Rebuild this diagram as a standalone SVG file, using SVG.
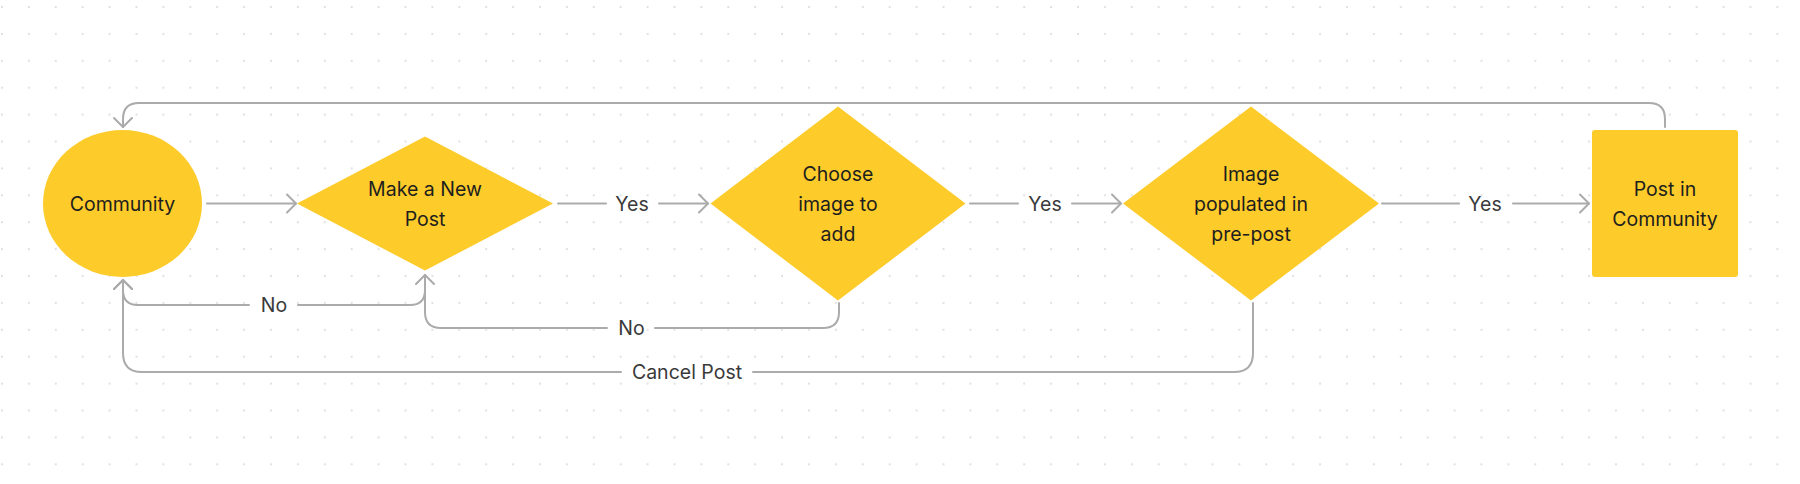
<svg xmlns="http://www.w3.org/2000/svg" width="1800" height="484" viewBox="0 0 1800 484">
  <defs>
    <pattern id="dots" x="0" y="0" width="26.9" height="26.9" patternUnits="userSpaceOnUse">
      <circle cx="2" cy="7" r="1.1" fill="#dcdcdc"/>
    </pattern>
    <marker id="arrow" markerUnits="userSpaceOnUse" markerWidth="24" markerHeight="24" viewBox="-12 -12 24 24" refX="0" refY="0" orient="auto">
      <path d="M-9,-9 L0,0 L-9,9" fill="none" stroke="#ababab" stroke-width="2" stroke-linecap="round" stroke-linejoin="round"/>
    </marker>
    <style>
      .shape { fill: #FDCB2A; }
      .node-text { font-family: Inter, "Liberation Sans", sans-serif; font-size: 19.5px; fill: #1e1e1e; text-anchor: middle; }
      .label { font-family: Inter, "Liberation Sans", sans-serif; font-size: 19.5px; fill: #3a3a3a; text-anchor: middle; }
      .conn { fill: none; stroke: #ababab; stroke-width: 2; stroke-linecap: round; stroke-linejoin: round; }
    </style>
  </defs>

  <rect x="0" y="0" width="1800" height="484" fill="#ffffff"/>
  <rect x="0" y="0" width="1800" height="484" fill="url(#dots)"/>

  <g id="connectors">
    <path class="conn" d="M207,203.5 H296" marker-end="url(#arrow)"/>
    <path class="conn" d="M558,203.5 H606 M659,203.5 H708" marker-end="url(#arrow)"/>
    <path class="conn" d="M970,203.5 H1018 M1072,203.5 H1121" marker-end="url(#arrow)"/>
    <path class="conn" d="M1382,203.5 H1459 M1513,203.5 H1589" marker-end="url(#arrow)"/>
    <path class="conn" d="M1665,127 V119 Q1665,103 1649,103 H139 Q123,103 123,119 V127" marker-end="url(#arrow)"/>
    <path class="conn" d="M425,275 V290 Q425,305 410,305 H298 M249,305 H138 Q123,305 123,290 V280" marker-end="url(#arrow)"/>
    <path class="conn" d="M839,303 V312 Q839,328 823,328 H655 M607,328 H441 Q425,328 425,312 V275" marker-end="url(#arrow)"/>
    <path class="conn" d="M1253,303 V353 Q1253,372 1234,372 H753 M621,372 H142 Q123,372 123,353 V280" marker-end="url(#arrow)"/>
    <text class="label" x="632" y="210.5">Yes</text>
    <text class="label" x="1045" y="210.5">Yes</text>
    <text class="label" x="1485" y="210.5">Yes</text>
    <text class="label" x="274" y="312">No</text>
    <text class="label" x="631.5" y="335">No</text>
    <text class="label" x="687" y="379">Cancel Post</text>
  </g>

  <g id="community">
    <ellipse class="shape" cx="122.5" cy="203.5" rx="79.5" ry="73.5"/>
    <text class="node-text" x="122.5" y="211">Community</text>
  </g>

  <g id="make-new-post">
    <polygon class="shape" points="425,136.5 553,203.5 425,270.5 297,203.5"/>
    <text class="node-text" x="425" y="196">Make a New</text>
    <text class="node-text" x="425" y="226">Post</text>
  </g>

  <g id="choose-image">
    <polygon class="shape" points="838,106.5 965.5,203.5 838,300.5 710.5,203.5"/>
    <text class="node-text" x="838" y="181">Choose</text>
    <text class="node-text" x="838" y="211">image to</text>
    <text class="node-text" x="838" y="241">add</text>
  </g>

  <g id="image-populated">
    <polygon class="shape" points="1251,106.5 1379,203.5 1251,300.5 1123,203.5"/>
    <text class="node-text" x="1251" y="181">Image</text>
    <text class="node-text" x="1251" y="211">populated in</text>
    <text class="node-text" x="1251" y="241">pre-post</text>
  </g>

  <g id="post-in-community">
    <rect class="shape" x="1592" y="130" width="146" height="147" rx="3"/>
    <text class="node-text" x="1665" y="196">Post in</text>
    <text class="node-text" x="1665" y="226">Community</text>
  </g>
</svg>
